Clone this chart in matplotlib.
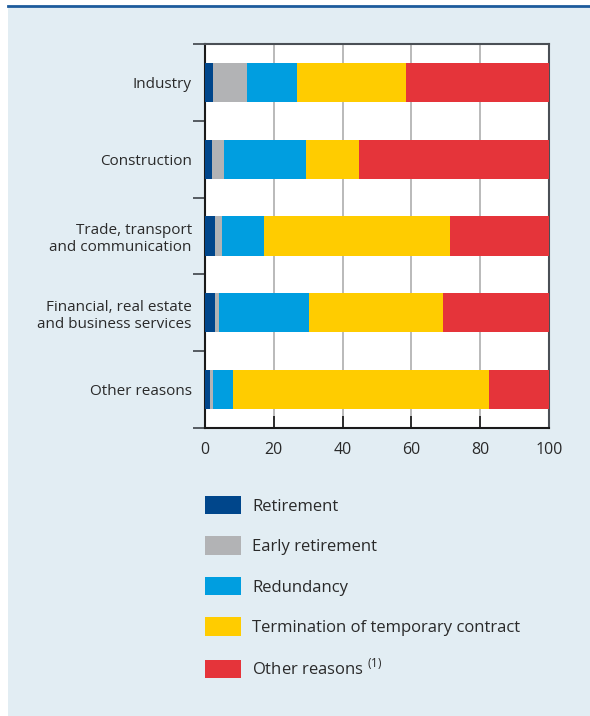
import matplotlib
matplotlib.use('Agg')
import matplotlib.pyplot as plt
import numpy as np

plt.rcParams['font.family'] = ['Open Sans', 'DejaVu Sans']
plt.rcParams['mathtext.fontset'] = 'custom'
plt.rcParams['mathtext.rm'] = 'Open Sans'

# data (% of dismissals)
sectors = ['Industry', 'Construction', 'Trade, transport\nand communication',
           'Financial, real estate\nand business services', 'Other reasons']
series = ['Retirement', 'Early retirement', 'Redundancy',
          'Termination of temporary contract', r'Other reasons $^{\mathrm{(1)}}$']
retirement = [2.4, 2.1, 3.0, 3.0, 1.5]
early_retirement = [9.9, 3.5, 2.0, 1.1, 0.9]
redundancy = [14.5, 23.8, 12.2, 26.2, 5.8]
temp_contract = [31.6, 15.4, 54.0, 38.8, 74.3]
other = [41.6, 55.2, 28.8, 30.9, 17.5]
xticks = [0, 20, 40, 60, 80, 100]

colors = ['#00468b', '#b2b3b5', '#009ee0', '#ffcc00', '#e5343a']
bg = '#e2edf3'
txt = '#2a2a2a'

fig = plt.figure(figsize=(5.9, 7.16), dpi=100, facecolor='white')
# panel background + top rule
fig.patches.append(plt.Rectangle((8 / 590, 0), 1, 1 - 8 / 716, transform=fig.transFigure,
                                 facecolor=bg, edgecolor='none', zorder=-10))
fig.add_artist(plt.Line2D([8 / 590, 1], [1 - 6 / 716, 1 - 6 / 716], transform=fig.transFigure,
                          color='#1d5b9c', lw=2.0, zorder=-5))

ax = fig.add_axes([205 / 590, 1 - 428 / 716, 344 / 590, 384 / 716])
ax.set_facecolor('white')

y = np.arange(len(sectors))
left = np.zeros(len(sectors))
for vals, name, c in zip([retirement, early_retirement, redundancy, temp_contract, other],
                         series, colors):
    ax.barh(y, vals, left=left, height=0.51, color=c, label=name, zorder=3)
    left += np.array(vals)

ax.set_xlim(0, 100)
ax.set_ylim(len(sectors) - 0.5, -0.5)
ax.set_xticks(xticks)
ax.xaxis.grid(True, color='#b4b4b4', lw=1.3, zorder=0)
ax.set_axisbelow(True)
ax.tick_params(axis='x', direction='in', length=9, width=1.3, color='#222222',
               labelsize=11.5, labelcolor=txt, pad=10)

ax.set_yticks(y)
ax.set_yticklabels(sectors)
ax.set_yticks(np.arange(len(sectors) + 1) - 0.5, minor=True)
ax.tick_params(axis='y', which='major', length=0, labelsize=11, labelcolor=txt, pad=9.5)
ax.tick_params(axis='y', which='minor', length=9, width=1.3, color='#4a4f55')

for s in ['left', 'bottom']:
    ax.spines[s].set_color('#1a1a1a')
    ax.spines[s].set_linewidth(1.5)
for s in ['top', 'right']:
    ax.spines[s].set_color('#4a4f55')
    ax.spines[s].set_linewidth(1.5)

leg = ax.legend(loc='upper left', bbox_to_anchor=(205 / 590, 1 - 496 / 716),
                bbox_transform=fig.transFigure, frameon=False, fontsize=12,
                handlelength=2.16, handleheight=1.32, handletextpad=0.66,
                labelspacing=1.3, borderpad=0, borderaxespad=0)
for t in leg.get_texts():
    t.set_color(txt)

fig.savefig('out.png', dpi=100, facecolor=fig.get_facecolor())
